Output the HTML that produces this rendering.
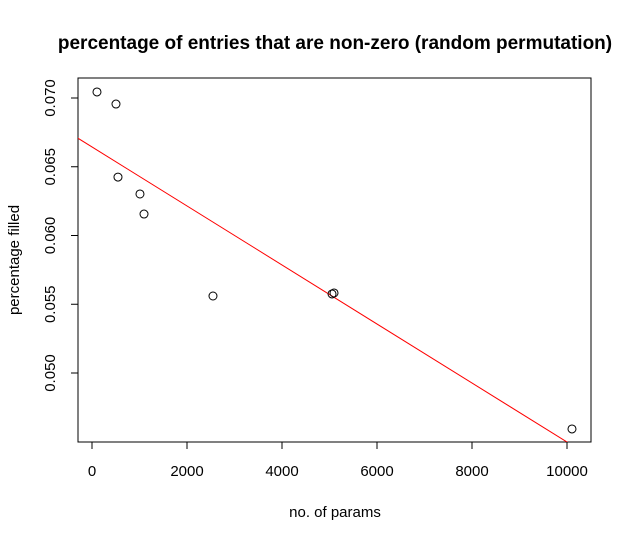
<!DOCTYPE html>
<html><head><meta charset="utf-8"><style>body{margin:0;background:#fff}svg{display:block}</style></head>
<body>
<svg id="chart" width="632" height="541" xmlns="http://www.w3.org/2000/svg" font-family="Liberation Sans, sans-serif"></svg>
<script>
const xValues=[105,505,547,1010,1095,2547,5053,5095,10105];
const yValues=[0.07044,0.06956,0.06425,0.06302,0.06156,0.0556,0.05575,0.05582,0.04593];
const xTicks=[0,2000,4000,6000,8000,10000];
const yTicks=[0.050,0.055,0.060,0.065,0.070];
const yTickLabels=["0.050","0.055","0.060","0.065","0.070"];
const fitIntercept=0.06644;
const fitSlope=-2.146e-6;
const L=78,R=591,T=78,B=442;
const sx=v=>92+v*0.0475;
const sy=v=>98+(0.070-v)*13750;
const svg=document.getElementById('chart');
const NS='http://www.w3.org/2000/svg';
function mk(tag,attrs,parent){const e=document.createElementNS(NS,tag);for(const k in attrs)e.setAttribute(k,attrs[k]);(parent||svg).appendChild(e);return e;}
let t=mk('text',{x:335,y:49,'text-anchor':'middle','font-size':19,'font-weight':'bold'});


t.textContent='percentage of entries that are non-zero (random permutation)';
let box=mk('rect',{x:L,y:T,width:R-L,height:B-T,fill:'none',stroke:'#000','stroke-width':1});


xTicks.forEach(v=>{
  const x=sx(v);
  let l=mk('line',{x1:x,x2:x,y1:B,y2:B+7,stroke:'#000'});
  
  
  let tx=mk('text',{x:x,y:476,'text-anchor':'middle','font-size':15});
  
  
  tx.textContent=String(v);
});
yTicks.forEach((v,i)=>{
  const y=sy(v);
  let l=mk('line',{x1:L-7,x2:L,y1:y,y2:y,stroke:'#000'});
  
  
  let tx=mk('text',{x:55,y:y,'text-anchor':'middle','font-size':15,transform:`rotate(-90 55 ${y})`});
  
  
  tx.textContent=yTickLabels[i];
});
let xl=mk('text',{x:335,y:517,'text-anchor':'middle','font-size':15});


xl.textContent='no. of params';
let yl=mk('text',{x:19,y:260,'text-anchor':'middle','font-size':15,transform:'rotate(-90 19 260)'});


yl.textContent='percentage filled';
const clip=mk('clipPath',{id:'clip'});
mk('rect',{x:L,y:T,width:R-L,height:B-T},clip);
const x0=-400,x1=11000;
let fl=mk('line',{x1:sx(x0),y1:sy(fitIntercept+fitSlope*x0),x2:sx(x1),y2:sy(fitIntercept+fitSlope*x1),stroke:'#ff0000','stroke-width':1,'clip-path':'url(#clip)'});


xValues.forEach((v,i)=>{
  let c=mk('circle',{cx:sx(v),cy:sy(yValues[i]),r:4,fill:'none',stroke:'#000','stroke-width':1});
  
  
});
</script>
</body></html>
